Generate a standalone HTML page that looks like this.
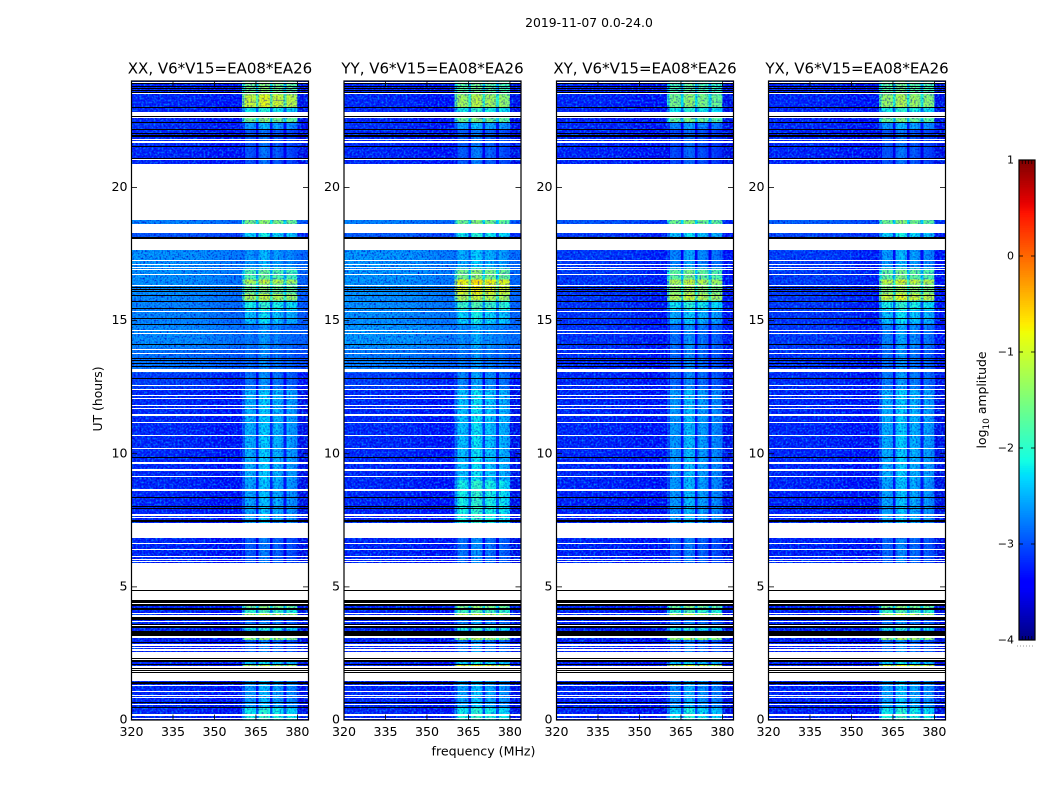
<!DOCTYPE html>
<html lang="en">
<head>
<meta charset="utf-8">
<title>2019-11-07 0.0-24.0</title>
<style>
  html, body { margin: 0; padding: 0; background: #fff; }
  svg { display: block; }
  text { font-family: "DejaVu Sans", "Liberation Sans", sans-serif; fill: #000; }
</style>
</head>
<body>
<svg id="figure" xmlns="http://www.w3.org/2000/svg" width="1050" height="800" viewBox="0 0 1050 800">
  <defs>
    <filter id="speckle-dark" x="0" y="0" width="100%" height="100%" color-interpolation-filters="sRGB">
      <feTurbulence type="fractalNoise" baseFrequency="0.55" numOctaves="1" seed="4"/>
      <feColorMatrix type="matrix" values="0 0 0 0 0  0 0 0 0 0  0 0 0 0 0.8  2.6 0 0 0 -1.15"/>
    </filter>
    <filter id="speckle-light" x="0" y="0" width="100%" height="100%" color-interpolation-filters="sRGB">
      <feTurbulence type="fractalNoise" baseFrequency="0.5" numOctaves="1" seed="11"/>
      <feColorMatrix type="matrix" values="0 0 0 0 0  0 0 0 0 0.5  0 0 0 0 1  0 2.6 0 0 -1.1"/>
    </filter>
  </defs>
  <text x="589" y="27" font-size="12.4" text-anchor="middle">2019-11-07 0.0-24.0</text>
  <text x="0" y="0" font-size="12.4" text-anchor="middle" transform="translate(102 399) rotate(-90)">UT (hours)</text>
  <text x="483.5" y="755.5" font-size="12.6" text-anchor="middle">frequency (MHz)</text>
  <text x="0" y="0" font-size="12.4" text-anchor="middle" transform="translate(986 400) rotate(-90)">log<tspan font-size="9" dy="3">10</tspan><tspan dy="-3"> amplitude</tspan></text>
  <g id="panels"></g>
  <g id="colorbar"></g>
</svg>
<script>
// ---- categories ----
const panelTitles = ["XX, V6*V15=EA08*EA26", "YY, V6*V15=EA08*EA26", "XY, V6*V15=EA08*EA26", "YX, V6*V15=EA08*EA26"];
const freqTicks = [320, 335, 350, 365, 380];
const utTicks = [0, 5, 10, 15, 20];
const colorbarTicks = [-4, -3, -2, -1, 0, 1];

// ---- frequency bins (MHz, 1 MHz wide) ----
const freqBins = [320,321,322,323,324,325,326,327,328,329,330,331,332,333,334,335,336,337,338,339,340,341,342,343,344,345,346,347,348,349,350,351,352,353,354,355,356,357,358,359,360,361,362,363,364,365,366,367,368,369,370,371,372,373,374,375,376,377,378,379,380,381,382,383];
// background slope over the band, log10 units
const bgTilt = [0.03,0.03,0.03,0.03,0.03,0.03,0.03,0.03,0.03,0.03,0.02,0.02,0.02,0.02,0.02,0.02,0.02,0.02,0.02,0.01,0,0,0,0,0,-0.02,-0.03,-0.04,-0.05,-0.06,-0.07,-0.08,-0.1,-0.11,-0.12,-0.13,-0.14,-0.15,-0.16,-0.17,-0.18,-0.18,-0.18,-0.18,-0.18,-0.2,-0.2,-0.2,-0.2,-0.2,-0.2,-0.2,-0.2,-0.2,-0.2,-0.2,-0.22,-0.22,-0.22,-0.22,-0.24,-0.26,-0.26,-0.26];
// interference shape over the band, log10 offset; null where there is none
const rfiShape = [null,null,null,null,null,null,null,null,null,null,null,null,null,null,null,null,null,null,null,null,null,null,null,null,null,null,null,null,null,null,null,null,null,null,null,null,null,null,null,null,-0.5,-0.1,-0.05,-0.1,-0.15,-0.8,0,0.1,0.1,0,-0.75,-0.1,0,-0.1,-0.15,-0.8,-0.1,-0.15,-0.2,-0.25,null,null,null,null];

// ---- time segments: start UT of each, level holds to the next start ----
const segStart = [0,0.21,0.46,1.47,1.81,2.01,2.08,2.24,3.01,3.09,3.36,3.47,3.67,3.93,3.99,4.14,4.29,5.81,7.4,9,12.4,13.06,14,14.9,15.4,15.75,16,16.4,16.55,16.95,18.05,18.63,18.78,20.88,21.5,22.2,22.45,22.83,23.03,23.5];
const bgXX = [-3.28,-3.28,-3.28,-3.28,-3.28,-3.28,-3.28,-3.3,-3.3,-3.3,-3.3,-3.3,-3.3,-3.3,-3.3,-3.3,-3.3,-3.3,-3.3,-3.28,-3.15,-2.78,-2.62,-2.67,-2.67,-2.64,-2.6,-2.6,-2.58,-2.58,-3.0,-2.7,-3.3,-3.3,-3.28,-3.25,-3.3,-3.3,-3.28,-3.3];
const bgYY = [-3.28,-3.28,-3.28,-3.28,-3.28,-3.28,-3.28,-3.3,-3.3,-3.3,-3.3,-3.3,-3.3,-3.3,-3.3,-3.3,-3.3,-3.3,-3.3,-3.28,-3.15,-2.72,-2.54,-2.6,-2.6,-2.58,-2.58,-2.58,-2.55,-2.55,-2.95,-2.7,-3.3,-3.3,-3.28,-3.25,-3.3,-3.3,-3.28,-3.3];
const bgXY = [-3.32,-3.32,-3.32,-3.32,-3.32,-3.32,-3.32,-3.33,-3.33,-3.33,-3.33,-3.33,-3.33,-3.33,-3.33,-3.33,-3.33,-3.32,-3.32,-3.3,-3.28,-3.26,-3.22,-3.22,-3.22,-3.2,-3.2,-3.18,-3.18,-3.18,-3.18,-3.0,-3.3,-3.32,-3.3,-3.28,-3.32,-3.32,-3.3,-3.32];
const bgYX = [-3.32,-3.32,-3.32,-3.32,-3.32,-3.32,-3.32,-3.33,-3.33,-3.33,-3.33,-3.33,-3.33,-3.33,-3.33,-3.33,-3.33,-3.32,-3.32,-3.3,-3.26,-3.22,-3.18,-3.2,-3.2,-3.18,-3.18,-3.16,-3.16,-3.16,-3.08,-2.95,-3.3,-3.32,-3.3,-3.28,-3.32,-3.32,-3.3,-3.32];
const rfiXX = [-2,-2.1,-2.5,-2.3,-2.5,-1.2,-2.3,-2.75,-1.3,-2.8,-2.1,-2.7,-2.7,-1.1,-1.9,-1.5,-2.7,-2.8,-2.45,-2.4,-2.7,-2.7,-2.65,-2.3,-2.05,-1.15,-1.5,-1.1,-1.7,-2.5,-2.2,-1.45,-2.6,-2.85,-2.85,-2.5,-1.5,-2.1,-0.95,-1.5];
const rfiYY = [-2,-2.1,-2.45,-2.3,-2.4,-0.8,-2.2,-2.65,-1.25,-2.7,-2,-2.6,-2.6,-1.05,-1.8,-1.45,-2.6,-2.7,-2.05,-2.3,-2.6,-2.65,-2.55,-2.2,-1.85,-1.1,-0.85,-0.7,-1.45,-2.4,-2.1,-1.5,-2.5,-2.8,-2.8,-2.45,-1.55,-2.05,-1.2,-1.65];
const rfiXY = [-2.1,-2.2,-2.55,-2.4,-2.55,-1,-2.3,-2.75,-1.3,-2.85,-2.1,-2.7,-2.75,-1.15,-1.9,-1.55,-2.75,-2.8,-2.5,-2.5,-2.75,-2.75,-2.7,-2.4,-2.1,-1.1,-1.3,-1.1,-1.6,-2.6,-2.3,-1.5,-2.6,-2.9,-2.9,-2.6,-1.6,-2.1,-1.45,-1.75];
const rfiYX = [-2,-2.1,-2.45,-2.3,-2.45,-0.9,-2.25,-2.7,-1.25,-2.75,-2.05,-2.65,-2.7,-1.1,-1.85,-1.5,-2.7,-2.75,-2.45,-2.4,-2.65,-2.7,-2.6,-2.3,-2.05,-0.95,-1.3,-1,-1.6,-2.5,-2.2,-1.5,-2.55,-2.85,-2.85,-2.5,-1.55,-2.05,-1.25,-1.65];
const bgByPanel = [bgXX, bgYY, bgXY, bgYX];
const rfiByPanel = [rfiXX, rfiYY, rfiXY, rfiYX];

// ---- flagged data (white) and near-zero integrations (black), UT ranges ----
const flaggedFrom = [0.05,0.16,0.58,0.82,0.91,1.05,1.30,1.47,1.81,1.85,1.89,1.96,2.24,2.34,2.61,2.70,2.79,3.09,3.34,3.52,3.67,3.88,3.99,4.34,4.42,4.49,5.83,5.92,6.00,6.11,6.37,6.60,6.82,7.45,7.59,7.66,8.59,9.12,9.34,9.61,10.18,10.66,11.15,11.41,11.68,11.79,12.05,12.16,12.41,12.56,13.06,13.75,13.89,14.48,14.61,15.33,16.30,16.71,16.92,16.97,17.10,17.23,17.64,18.30,18.78,21.06,21.68,21.77,22.62,22.69,23.50,23.93];
const flaggedTo = [0.08,0.21,0.61,0.86,0.95,1.08,1.33,1.79,1.85,1.89,1.92,2.01,2.29,2.54,2.65,2.74,2.84,3.15,3.36,3.55,3.71,3.93,4.03,4.38,4.45,5.81,5.88,5.96,6.03,6.15,6.41,6.64,7.40,7.47,7.62,7.75,8.67,9.15,9.42,9.68,10.23,10.70,11.18,11.51,11.72,11.83,12.09,12.20,12.45,12.60,13.19,13.79,13.93,14.52,14.64,15.37,16.33,16.74,16.95,17.00,17.14,17.26,18.05,18.63,20.88,21.08,21.75,21.82,22.65,22.83,23.55,23.97];
const droppedFrom = [0.48,0.62,1.37,1.79,1.85,1.92,2.08,2.17,2.29,2.89,3.15,3.47,3.55,3.77,4.14,4.29,4.38,4.45,4.87,7.45,7.50,7.95,8.03,8.34,9.83,12.79,13.28,13.38,13.49,13.56,14.08,14.83,15.06,15.43,15.71,15.95,16.08,16.15,16.23,18.06,21.08,21.52,21.90,22.01,22.16,22.44,22.66,22.98,23.56,23.62,23.71,23.80,23.89];
const droppedTo = [0.50,0.66,1.44,1.81,1.89,1.96,2.11,2.24,2.34,2.92,3.34,3.52,3.60,3.88,4.19,4.34,4.42,4.49,4.90,7.47,7.53,7.98,8.05,8.38,9.86,12.83,13.30,13.41,13.52,13.60,14.11,14.86,15.08,15.46,15.73,15.97,16.11,16.20,16.27,18.14,21.10,21.56,21.96,22.04,22.21,22.47,22.69,23.03,23.60,23.67,23.73,23.82,23.92];

// ---- layout and scales ----
const NS = "http://www.w3.org/2000/svg";
const axesLeft = [131.5, 344, 556.5, 768.5];
const axesWidth = 177, axesTop = 81, axesHeight = 639;
const freqMin = 320, freqMax = 384, utMin = 0, utMax = 24, logMin = -4, logMax = 1;
const cbTop = 160, cbHeight = 480, cbLeft = 1019, cbWidth = 16;

function xScale(f, left) { return left + (f - freqMin) / (freqMax - freqMin) * axesWidth; }
function yScale(u) { return axesTop + axesHeight - (u - utMin) / (utMax - utMin) * axesHeight; }
function cbScale(v) { return cbTop + cbHeight - (v - logMin) / (logMax - logMin) * cbHeight; }

function interp(stops, x) {
  for (let i = 1; i < stops.length; i++) {
    if (x <= stops[i][0]) {
      const a = stops[i - 1], b = stops[i];
      return a[1] + (b[1] - a[1]) * (x - a[0]) / (b[0] - a[0]);
    }
  }
  return stops[stops.length - 1][1];
}
const jetR = [[0,0],[0.35,0],[0.66,1],[0.89,1],[1,0.5]];
const jetG = [[0,0],[0.125,0],[0.375,1],[0.64,1],[0.91,0],[1,0]];
const jetB = [[0,0.5],[0.11,1],[0.34,1],[0.65,0],[1,0]];
function jet(v) {
  const t = Math.max(0, Math.min(1, (v - logMin) / (logMax - logMin)));
  return "rgb(" + Math.round(interp(jetR, t) * 255) + "," + Math.round(interp(jetG, t) * 255) + "," + Math.round(interp(jetB, t) * 255) + ")";
}
function mk(parent, tag, attrs, txt) {
  const el = document.createElementNS(NS, tag);
  for (const k in attrs) el.setAttribute(k, attrs[k]);
  if (txt !== undefined) el.textContent = txt;
  parent.appendChild(el);
  return el;
}

const panelsRoot = document.getElementById("panels");
panelTitles.forEach(function (title, p) {
  const left = axesLeft[p];
  const right = left + axesWidth;
  const bottom = axesTop + axesHeight;
  const g = mk(panelsRoot, "g", {});
  
  

  // heatmap cells
  const cells = mk(g, "g", { "shape-rendering": "crispEdges" });
  
  
  segStart.forEach(function (start, s) {
    const end = s + 1 < segStart.length ? segStart[s + 1] : utMax;
    const y0 = yScale(end), y1 = yScale(start);
    freqBins.forEach(function (f, b) {
      const bgVal = bgByPanel[p][s] + bgTilt[b];
      const rfiVal = rfiShape[b] === null ? -Infinity : rfiByPanel[p][s] + rfiShape[b];
      const x0 = xScale(f, left);
      const cell = mk(cells, "rect", { x: x0, y: y0, width: xScale(f + 1, left) - x0, height: y1 - y0, fill: jet(Math.max(bgVal, rfiVal)) });
      
      
    });
  });

  // receiver-noise texture: full strength off the interference block, fainter over it
  const noiseX0 = xScale(360.5, left), noiseX1 = xScale(380, left);
  const darkLeft = mk(g, "rect", { x: left, y: axesTop, width: noiseX0 - left, height: axesHeight, filter: "url(#speckle-dark)" });
  
  
  const lightLeft = mk(g, "rect", { x: left, y: axesTop, width: noiseX0 - left, height: axesHeight, filter: "url(#speckle-light)" });
  
  
  const darkRight = mk(g, "rect", { x: noiseX1, y: axesTop, width: right - noiseX1, height: axesHeight, filter: "url(#speckle-dark)" });
  
  
  const lightRight = mk(g, "rect", { x: noiseX1, y: axesTop, width: right - noiseX1, height: axesHeight, filter: "url(#speckle-light)" });
  
  
  const darkMid = mk(g, "rect", { x: noiseX0, y: axesTop, width: noiseX1 - noiseX0, height: axesHeight, filter: "url(#speckle-dark)", opacity: 0.65 });
  
  

  // flagged rows then dropped rows, snapped to whole pixels so single-row flags stay crisp
  const rows = mk(g, "g", { "shape-rendering": "crispEdges" });
  
  
  flaggedFrom.forEach(function (from, i) {
    const y0 = Math.round(yScale(flaggedTo[i]));
    const row = mk(rows, "rect", { x: left, y: y0, width: axesWidth, height: Math.max(1, Math.round(yScale(from)) - y0), fill: "#fff" });
    
    
  });
  droppedFrom.forEach(function (from, i) {
    const y0 = Math.round(yScale(droppedTo[i]));
    const row = mk(rows, "rect", { x: left, y: y0, width: axesWidth, height: Math.max(1, Math.round(yScale(from)) - y0), fill: "#000" });
    
    
  });

  // frame
  const frame = mk(g, "rect", { x: left, y: axesTop, width: axesWidth, height: axesHeight, fill: "none", stroke: "#000", "stroke-width": 1.2 });
  
  

  // x ticks
  freqTicks.forEach(function (f) {
    const x = xScale(f, left);
    const tickB = mk(g, "line", { x1: x, x2: x, y1: bottom, y2: bottom - 5.5, stroke: "#000", "stroke-width": 0.8 });
    
    
    const tickT = mk(g, "line", { x1: x, x2: x, y1: axesTop, y2: axesTop + 5.5, stroke: "#000", "stroke-width": 0.8 });
    
    
    const label = mk(g, "text", { x: x, y: bottom + 16, "font-size": 12.6, "text-anchor": "middle" }, String(f));
    
    
  });

  // y ticks
  utTicks.forEach(function (u) {
    const y = yScale(u);
    const tickL = mk(g, "line", { x1: left, x2: left + 5.5, y1: y, y2: y, stroke: "#000", "stroke-width": 0.8 });
    
    
    const tickR = mk(g, "line", { x1: right, x2: right - 5.5, y1: y, y2: y, stroke: "#000", "stroke-width": 0.8 });
    
    
    const label = mk(g, "text", { x: left - 4, y: y + 3.5, "font-size": 12.6, "text-anchor": "end" }, String(u));
    
    
  });

  const t = mk(g, "text", { x: left + axesWidth / 2, y: 73.5, "font-size": 15, "text-anchor": "middle" }, title);
  
  
});

// ---- colorbar ----
const cb = document.getElementById("colorbar");
const cbGrad = mk(cb, "g", { "shape-rendering": "crispEdges" });


const cbSteps = 256;
for (let i = 0; i < cbSteps; i++) {
  const v0 = logMin + (logMax - logMin) * i / cbSteps;
  const v1 = logMin + (logMax - logMin) * (i + 1) / cbSteps;
  const swatch = mk(cbGrad, "rect", { x: cbLeft, y: cbScale(v1), width: cbWidth, height: cbScale(v0) - cbScale(v1) + 0.5, fill: jet((v0 + v1) / 2) });
  
  
}
const cbFrame = mk(cb, "rect", { x: cbLeft, y: cbTop, width: cbWidth, height: cbHeight, fill: "none", stroke: "#000", "stroke-width": 1.2 });


colorbarTicks.forEach(function (v) {
  const y = cbScale(v);
  const tickL = mk(cb, "line", { x1: cbLeft, x2: cbLeft + 4, y1: y, y2: y, stroke: "#000", "stroke-width": 0.8 });
  
  
  const tickR = mk(cb, "line", { x1: cbLeft + cbWidth, x2: cbLeft + cbWidth - 4, y1: y, y2: y, stroke: "#000", "stroke-width": 0.8 });
  
  
  const label = mk(cb, "text", { x: cbLeft - 5, y: y + 3.5, "font-size": 11, "text-anchor": "end" }, v < 0 ? "\u2212" + Math.abs(v) : String(v));
  
  
});
[0.2, 0.4, 0.6, 0.8].forEach(function (frac) {
  const x = cbLeft + cbWidth * frac;
  const edgeTop = mk(cb, "line", { x1: x, x2: x, y1: cbTop, y2: cbTop + 4, stroke: "#000", "stroke-width": 0.7 });
  
  
  const edgeBottom = mk(cb, "line", { x1: x, x2: x, y1: cbTop + cbHeight, y2: cbTop + cbHeight - 4, stroke: "#000", "stroke-width": 0.7 });
  
  
});
const cbDots = mk(cb, "line", { x1: cbLeft - 2, x2: cbLeft + cbWidth, y1: 646, y2: 646, stroke: "#999", "stroke-width": 1, "stroke-dasharray": "1 2" });


</script>
</body>
</html>
